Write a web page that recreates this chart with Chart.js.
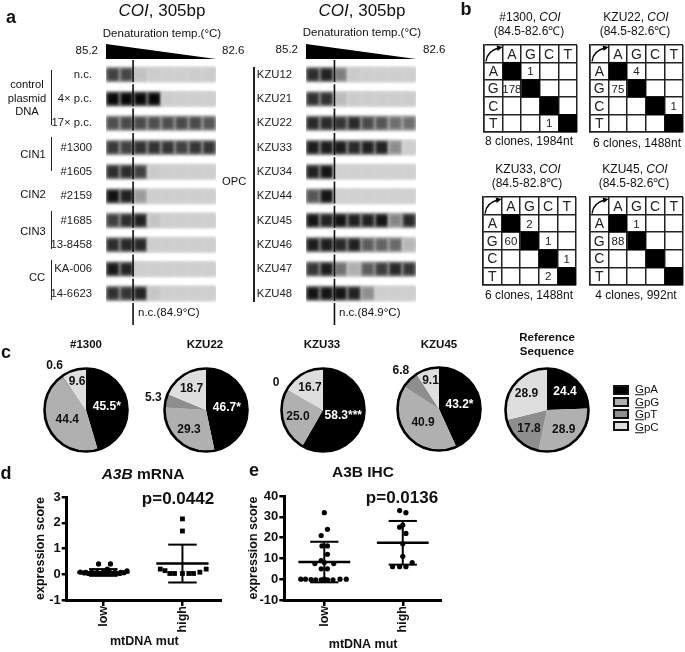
<!DOCTYPE html>
<html lang="en">
<head>
<meta charset="UTF-8">
<title>COI hypermutation figure</title>
<script src="https://cdn.jsdelivr.net/npm/chart.js"></script>
<style>
    body { margin: 0; background: #fff; }
    #page { position: relative; width: 685px; height: 652px; overflow: hidden; font-family: "Liberation Sans", Arial, sans-serif; color: #111; filter: blur(.3px); }
    #page canvas { position: absolute; }
    .t { position: absolute; white-space: nowrap; line-height: 1; }
    .bar { position: absolute; background: #222; }
    .key { position: absolute; width: 12px; height: 6px; border: 2px solid #111; }
</style>
</head>
<body>
<div id="page"></div>

<script>
// panel a: band darkness per lane (0 = empty, 1 = black)
const leftRows = ['n.c.', '4× p.c.', '17× p.c.', '#1300', '#1605', '#2159', '#1685', '13-8458', 'KA-006', '14-6623'];
const leftBands = [
    [.72, .70, .10, .04, .03, .03, .04, .04],
    [1, 1, 1, 1, .04, .03, .03, .03],
    [.66, .68, .68, .66, .66, .68, .68, .62],
    [.76, .72, .80, .80, .78, .72, .78, .78],
    [.82, .82, .72, .05, .03, .03, .03, .03],
    [.95, .88, .28, .03, .03, .03, .03, .03],
    [.72, .82, .88, .08, .03, .03, .03, .03],
    [.82, .84, .84, .03, .03, .03, .03, .03],
    [.92, .86, .03, .03, .03, .03, .03, .03],
    [.80, .78, .86, .07, .03, .03, .03, .03]
];
const rightRows = ['KZU12', 'KZU21', 'KZU22', 'KZU33', 'KZU34', 'KZU44', 'KZU45', 'KZU46', 'KZU47', 'KZU48'];
const rightBands = [
    [.82, .88, .42, .05, .03, .03, .03, .03],
    [.80, .80, .12, .05, .04, .04, .04, .04],
    [.84, .84, .78, .84, .68, .62, .50, .50],
    [.90, .90, .90, .84, .88, .88, .35, .03],
    [.88, .94, .02, .02, .02, .02, .02, .02],
    [.62, .94, .02, .02, .02, .02, .02, .02],
    [.94, .88, .94, .88, .88, .94, .38, .84],
    [.90, .90, .84, .88, .58, .55, .52, .14],
    [.78, .90, .48, .18, .58, .74, .84, .78],
    [.94, .94, .94, .88, .34, .03, .03, .03]
];
const wedgeTemps = ['85.2', '82.6'];
const wedgeHeights = [1, 0];
const ncLaneLeft = 1.97, ncLaneRight = 2.07;

// panel b: [from row, to column, count]
const bases = ['A', 'G', 'C', 'T'];
const cells1300 = [['A', 'G', 1], ['G', 'A', 178], ['T', 'C', 1]];
const cellsKzu22 = [['A', 'G', 4], ['G', 'A', 75], ['C', 'T', 1]];
const cellsKzu33 = [['A', 'G', 2], ['G', 'A', 60], ['G', 'C', 1], ['C', 'T', 1], ['T', 'C', 2]];
const cellsKzu45 = [['A', 'G', 1], ['G', 'A', 88]];

// panel c: GpA, GpG, GpT, GpC
const pieKeys = ['GpA', 'GpG', 'GpT', 'GpC'];
const pieColors = ['#000000', '#b0b0b0', '#8e8e8e', '#dedede'];
const pie1300 = [45.5, 44.4, 0.6, 9.6];
const pieKzu22 = [46.7, 29.3, 5.3, 18.7];
const pieKzu33 = [58.3, 25.0, 0, 16.7];
const pieKzu45 = [43.2, 40.9, 6.8, 9.1];
const pieRef = [24.4, 28.9, 17.8, 28.9];
const text1300 = ['45.5*', '44.4', '0.6', '9.6'];
const textKzu22 = ['46.7*', '29.3', '5.3', '18.7'];
const textKzu33 = ['58.3***', '25.0', '0', '16.7'];
const textKzu45 = ['43.2*', '40.9', '6.8', '9.1'];
const textRef = ['24.4', '28.9', '17.8', '28.9'];

// panels d and e
const groups = ['low', 'high'];
const mrnaLowX = [.71, .76, .81, .86, .91, .96, 1.01, 1.06, 1.11, 1.16, 1.21, 1.26, 1.30, .94, 1.09, 1.05, .78, .85, .92, 1.0, 1.08, 1.15, 1.22, .88, .98, 1.04, 1.13];
const mrnaLowY = [.08, .05, .03, .02, .02, .02, .02, .02, .02, .02, .03, .06, .13, .40, .40, .20, .07, .07, .07, .07, .07, .07, .07, .04, .04, .04, .04];
const mrnaHighX = [2, 2, 1.72, 1.78, 1.84, 1.90, 2, 2.08, 2.14, 2.22, 2.30];
const mrnaHighY = [2.15, 1.68, .20, .14, .03, .03, .03, .03, .03, .08, .20];
const mrnaMean = [.07, .42], mrnaUpper = [.20, 1.15], mrnaLower = [-.06, -.32];
const ihcLowX = [1, 1.04, .96, .97, 1.04, 1.04, .96, 1, .88, 1.12, .96, 1.04, .70, .76, .83, .89, .96, 1.04, 1.11, 1.20, 1.28, 1];
const ihcLowY = [32, 24, 21, 16, 16, 12, 9, 8, 7.5, 7.5, 5, 5, 0, 0, -.2, -.3, -.3, -.3, -.3, 0, 0, 0];
const ihcHighX = [1.96, 2.04, 1.96, 2.0, 2.04, 2, 2, 1.87, 1.96, 2.04, 2.12];
const ihcHighY = [33, 32, 25, 26, 22, 17, 11, 6, 6, 6, 8];
const ihcMean = [8.3, 17.5], ihcUpper = [18, 28], ihcLower = [-1.5, 7];

const page = document.getElementById('page');
Chart.defaults.font.family = '"Liberation Sans", Arial, sans-serif';
Chart.defaults.animation = false;

function text(html, x, y, size, opts) {
    opts = opts || {};
    const el = document.createElement('div');
    el.className = 't';
    el.innerHTML = html;
    el.style.fontSize = size + 'px';
    if (opts.bold) el.style.fontWeight = 'bold';
    el.style.left = x + 'px';
    el.style.top = y + 'px';
    const shift = opts.align === 'left' ? '0' : opts.align === 'right' ? '-100%' : '-50%';
    el.style.transform = 'translate(' + shift + ',-50%)';
    page.appendChild(el);
}

function bar(x, y, w, h) {
    const el = document.createElement('div');
    el.className = 'bar';
    el.style.cssText = 'left:' + x + 'px;top:' + y + 'px;width:' + w + 'px;height:' + h + 'px';
    page.appendChild(el);
}

function canvas(x, y, w, h) {
    const c = document.createElement('canvas');
    c.width = w;
    c.height = h;
    c.style.left = x + 'px';
    c.style.top = y + 'px';
    page.appendChild(c);
    return c;
}

// the scale asks for room around its labels, the plot areas here are placed by hand
function noScalePadding(s) {
    s.paddingTop = s.paddingBottom = s.paddingLeft = s.paddingRight = 0;
}

// soften the gel strip and bands, the n.c. line (dataset 0) stays sharp
const gelBlur = {
    id: 'gelBlur',
    beforeDatasetDraw(chart, args) {
        if (args.index > 0) { chart.ctx.save(); chart.ctx.filter = 'blur(1.5px)'; }
    },
    afterDatasetDraw(chart, args) {
        if (args.index > 0) chart.ctx.restore();
    }
};

function gel(x, rows, bands, ncLane) {
    const labelWidth = 56;
    const strips = rows.flatMap((r, i) => [{x: 0, y: i}, {x: 8, y: i}, {x: NaN, y: i}]);
    const points = [], cores = [], halos = [];
    bands.forEach((lanes, row) => lanes.forEach((v, lane) => {
        points.push({x: lane + .5, y: row});
        const g = Math.round(212 - 205 * v);
        const h = Math.round(214 - 125 * v);
        cores.push('rgb(' + g + ',' + g + ',' + g + ')');
        halos.push('rgb(' + h + ',' + h + ',' + h + ')');
    }));
    new Chart(canvas(x - labelWidth, 59.6, 110.7 + labelWidth, 265), {
        type: 'scatter',
        data: {datasets: [
            {data: [{x: ncLane, y: -.6}, {x: ncLane, y: 10.3}], showLine: true, borderColor: '#111', borderWidth: 1.6, borderDash: [22, 2.3], pointRadius: 0},
            {data: points, backgroundColor: cores, borderWidth: 0, pointStyle: 'rect', pointRadius: 7.5},
            {data: points, backgroundColor: halos, borderWidth: 0, pointStyle: 'rect', pointRadius: 10},
            {data: strips, showLine: true, borderColor: '#d6d6d6', borderWidth: 15, borderCapStyle: 'butt', pointRadius: 0, spanGaps: false}
        ]},
        options: {
            responsive: false,
            plugins: {legend: {display: false}, tooltip: {enabled: false}},
            layout: {padding: 0, autoPadding: false},
            scales: {
                x: {display: false, min: 0, max: 8},
                y: {
                    reverse: true, min: -.6, max: 10.3,
                    afterFit(s) { s.width = labelWidth; noScalePadding(s); },
                    afterBuildTicks(s) { s.ticks = rows.map((r, i) => ({value: i})); },
                    border: {display: false},
                    grid: {display: false},
                    ticks: {autoSkip: false, padding: 6, color: '#222', font: {size: 11.3}, callback: v => rows[v]}
                }
            }
        },
        plugins: [gelBlur]
    });
}

function wedge(x) {
    new Chart(canvas(x, 44, 110, 15), {
        type: 'line',
        data: {labels: wedgeTemps, datasets: [{data: wedgeHeights, fill: 'origin', backgroundColor: '#000', borderWidth: 0, pointRadius: 0}]},
        options: {
            responsive: false,
            layout: {autoPadding: false},
            plugins: {legend: {display: false}, tooltip: {enabled: false}},
            scales: {x: {display: false}, y: {display: false, min: 0, max: 1}}
        }
    });
}

// header letters, counts and the little bent arrow of a substitution matrix
const matrixText = {
    id: 'matrixText',
    afterDatasetsDraw(chart, args, opts) {
        const {ctx, scales: {x, y}} = chart;
        const px = v => x.getPixelForValue(v), py = v => y.getPixelForValue(v);
        ctx.save();
        ctx.textAlign = 'center';
        ctx.textBaseline = 'middle';
        ctx.fillStyle = '#222';
        ctx.font = '14px "Liberation Sans"';
        bases.forEach((b, i) => {
            ctx.fillText(b, px(i + 1.5), py(.5) + 1);
            ctx.fillText(b, px(.5), py(i + 1.5) + 1);
        });
        ctx.font = '11.5px "Liberation Sans"';
        opts.cells.forEach(c => {
            ctx.fillText(c[2], px(bases.indexOf(c[1]) + 1.5), py(bases.indexOf(c[0]) + 1.5) + 1);
        });
        const x0 = px(0), y0 = py(0), cw = px(1) - x0, ch = py(1) - y0;
        ctx.strokeStyle = '#000';
        ctx.lineWidth = 1.3;
        ctx.beginPath();
        ctx.moveTo(x0 + 2, y0 + ch - 1);
        ctx.quadraticCurveTo(x0 + 3, y0 + 6, x0 + cw - 4, y0 + 3);
        ctx.stroke();
        ctx.fillStyle = '#000';
        ctx.beginPath();
        ctx.moveTo(x0 + cw, y0 + 2);
        ctx.lineTo(x0 + cw - 6, y0 + .5);
        ctx.lineTo(x0 + cw - 5, y0 + 6);
        ctx.fill();
        ctx.restore();
    }
};

function matrix(x, y, w, h, cells) {
    new Chart(canvas(x - 2, y - 2, w + 4, h + 4), {
        type: 'scatter',
        data: {datasets: [{
            data: bases.map((b, i) => ({x: i + 1.5, y: i + 1.5})),
            backgroundColor: '#000', borderWidth: 0, pointStyle: 'rect', pointRadius: 13
        }]},
        options: {
            responsive: false,
            layout: {padding: 2, autoPadding: false},
            plugins: {legend: {display: false}, tooltip: {enabled: false}, matrixText: {cells: cells}},
            scales: {
                x: {min: 0, max: 5, border: {color: '#222', width: 1.5}, grid: {color: '#222', lineWidth: 1.5, drawTicks: false}, ticks: {display: false, stepSize: 1}},
                y: {reverse: true, min: 0, max: 5, border: {color: '#222', width: 1.5}, grid: {color: '#222', lineWidth: 1.5, drawTicks: false}, ticks: {display: false, stepSize: 1}}
            }
        },
        plugins: [matrixText]
    });
}

// slice values and black ring of a pie
const pieText = {
    id: 'pieText',
    afterDatasetsDraw(chart, args, opts) {
        const {ctx} = chart;
        const arcs = chart.getDatasetMeta(0).data;
        const cx = arcs[0].x, cy = arcs[0].y, r = arcs[0].outerRadius;
        ctx.save();
        ctx.beginPath();
        ctx.arc(cx, cy, r, 0, Math.PI * 2);
        ctx.lineWidth = 2.6;
        ctx.strokeStyle = '#000';
        ctx.stroke();
        ctx.font = 'bold 12px "Liberation Sans"';
        ctx.textAlign = 'center';
        ctx.textBaseline = 'middle';
        const values = chart.data.datasets[0].data;
        arcs.forEach((a, i) => {
            const v = values[i];
            const dist = v < 7 ? 54 : v < 12 ? 30 : v < 35 ? 26 : 21;
            const mid = (a.startAngle + a.endAngle) / 2;
            ctx.fillStyle = i === 0 ? '#fff' : '#111';
            ctx.fillText(opts.labels[i], cx + Math.cos(mid) * dist, cy + Math.sin(mid) * dist);
        });
        ctx.restore();
    }
};

function pie(cx, cy, values, labels) {
    new Chart(canvas(cx - 65, cy - 65, 130, 130), {
        type: 'pie',
        data: {labels: pieKeys, datasets: [{data: values, backgroundColor: pieColors, borderWidth: 0}]},
        options: {
            responsive: false,
            radius: 41.5,
            plugins: {legend: {display: false}, tooltip: {enabled: false}, pieText: {labels: labels}}
        },
        plugins: [pieText]
    });
}

function summary(means, uppers, lowers) {
    const line = (pts, w) => ({data: pts, showLine: true, borderColor: '#000', borderWidth: w, pointRadius: 0, clip: false});
    return means.flatMap((m, i) => {
        const c = i + 1;
        return [
            line([{x: c - .33, y: m}, {x: c + .33, y: m}], 2.6),
            line([{x: c, y: lowers[i]}, {x: c, y: uppers[i]}], 2),
            line([{x: c - .18, y: uppers[i]}, {x: c + .18, y: uppers[i]}], 2),
            line([{x: c - .18, y: lowers[i]}, {x: c + .18, y: lowers[i]}], 2)
        ];
    });
}

function dotPlot(o) {
    const pts = (xs, ys) => xs.map((x, i) => ({x: x, y: ys[i]}));
    const top = o.top - 8;
    new Chart(canvas(o.left, top, o.width, 652 - top), {
        type: 'scatter',
        data: {datasets: [
            {data: pts(o.lowX, o.lowY), backgroundColor: '#000', borderWidth: 0, pointRadius: 2.6, clip: false},
            {data: pts(o.highX, o.highY), backgroundColor: '#000', borderWidth: 0, pointRadius: o.highRadius, pointStyle: o.highStyle, clip: false}
        ].concat(summary(o.mean, o.upper, o.lower))},
        options: {
            responsive: false,
            layout: {padding: {top: 8, bottom: o.bottomPad}, autoPadding: false},
            plugins: {legend: {display: false}, tooltip: {enabled: false}},
            scales: {
                x: {
                    min: o.xMin, max: o.xMax,
                    afterFit(s) { s.height = 652 - o.bottom - o.bottomPad; noScalePadding(s); },
                    afterBuildTicks(s) { s.ticks = groups.map((g, i) => ({value: i + 1})); },
                    border: {color: '#000', width: 3},
                    grid: {drawOnChartArea: false, color: '#000', lineWidth: 2.5, tickLength: 6},
                    ticks: {autoSkip: false, maxRotation: 90, minRotation: 90, padding: 0, color: '#111', font: {size: 12.5, weight: 'bold'}, callback: v => groups[v - 1]},
                    title: {display: true, text: 'mtDNA mut', color: '#111', font: {size: 12.5, weight: 'bold'}, padding: 0}
                },
                y: {
                    min: o.yMin, max: o.yMax,
                    afterFit(s) { s.width = o.axisX - o.left; noScalePadding(s); },
                    afterBuildTicks(s) { s.ticks = o.yTicks.map(v => ({value: v})); },
                    border: {color: '#000', width: 3},
                    grid: {drawOnChartArea: false, color: '#000', lineWidth: 2.5, tickLength: 5},
                    ticks: {padding: 1, color: '#111', font: {size: 13, weight: 'bold'}},
                    title: {display: true, text: 'expression score', color: '#111', font: {size: 12.5, weight: 'bold'}, padding: 0}
                }
            }
        }
    });
}

// ---- panel a ----
text('a', 11, 17, 18, {bold: true});
text('<i>COI</i>, 305bp', 162, 10, 17);
text('<i>COI</i>, 305bp', 362, 10, 17);
text('Denaturation temp.(°C)', 162, 34, 11.5);
text('Denaturation temp.(°C)', 362, 33, 11.5);
text('85.2', 98, 51, 11.5, {align: 'right'});
text('82.6', 222, 51, 11.5, {align: 'left'});
text('85.2', 298, 50, 11.5, {align: 'right'});
text('82.6', 423, 50, 11.5, {align: 'left'});
wedge(106);
wedge(306);
gel(106, leftRows, leftBands, ncLaneLeft);
gel(306, rightRows, rightBands, ncLaneRight);
text('n.c.(84.9°C)', 138, 313, 11.5, {align: 'left'});
text('n.c.(84.9°C)', 339, 313, 11.5, {align: 'left'});
text('control', 27, 85, 11.2);
text('plasmid', 27, 98.5, 11.2);
text('DNA', 27, 112, 11.2);
text('CIN1', 33, 155, 11.2);
text('CIN2', 33, 195, 11.2);
text('CIN3', 33, 232, 11.2);
text('CC', 37, 278, 11.2);
text('OPC', 222, 182, 11.2, {align: 'left'});
bar(50.5, 70, 1.5, 55);
bar(50.5, 137, 1.5, 34);
bar(50.5, 211, 1.5, 38);
bar(50.5, 260, 1.5, 40);
bar(253, 67, 1.5, 235);

// ---- panel b ----
text('b', 466, 9, 18, {bold: true});
text('#1300, <i>COI</i>', 530, 17, 12);
text('(84.5-82.6℃)', 529, 31, 12);
text('KZU22, <i>COI</i>', 636, 17, 12);
text('(84.5-82.6℃)', 635, 31, 12);
text('KZU33, <i>COI</i>', 528, 169, 12);
text('(84.5-82.8℃)', 527, 183, 12);
text('KZU45, <i>COI</i>', 635, 169, 12);
text('(84.5-82.6℃)', 634, 183, 12);
matrix(483.5, 45, 93, 87.5, cells1300);
matrix(589.5, 44.5, 93, 87.5, cellsKzu22);
matrix(482.5, 197, 93.5, 88, cellsKzu33);
matrix(589.5, 196.5, 93, 88, cellsKzu45);
text('8 clones, 1984nt', 529, 141, 12);
text('6 clones, 1488nt', 637, 143, 12);
text('6 clones, 1488nt', 529, 295, 12);
text('4 clones, 992nt', 636, 295, 12);

// ---- panel c ----
text('c', 6, 352, 18, {bold: true});
text('#1300', 86, 345, 11.5, {bold: true});
text('KZU22', 205, 345, 11.5, {bold: true});
text('KZU33', 322, 345, 11.5, {bold: true});
text('KZU45', 439, 345, 11.5, {bold: true});
text('Reference', 547, 338, 11.5, {bold: true});
text('Sequence', 547, 352, 11.5, {bold: true});
pie(86, 410, pie1300, text1300);
pie(205.7, 410, pieKzu22, textKzu22);
pie(322.7, 410, pieKzu33, textKzu33);
pie(439, 409, pieKzu45, textKzu45);
pie(547.3, 409.7, pieRef, textRef);
pieKeys.forEach((k, i) => {
    const el = document.createElement('div');
    el.className = 'key';
    el.style.left = '613px';
    el.style.top = (385 + i * 12.1) + 'px';
    el.style.background = pieColors[i];
    page.appendChild(el);
    text('<u>G</u>' + k.slice(1), 635, 390 + i * 12.6, 11.5, {align: 'left'});
});

// ---- panel d ----
text('d', 6, 473, 18, {bold: true});
text('<i>A3B</i> mRNA', 143, 474, 15.5, {bold: true});
text('p=0.0442', 178, 498, 17, {bold: true});
dotPlot({
    left: 33, width: 189, top: 497.3, bottom: 601, axisX: 66.7, bottomPad: 2,
    xMin: .537, xMax: 2.5, yMin: -1, yMax: 3, yTicks: [-1, 0, 1, 2, 3],
    lowX: mrnaLowX, lowY: mrnaLowY, highX: mrnaHighX, highY: mrnaHighY,
    highStyle: 'rect', highRadius: 3.4,
    mean: mrnaMean, upper: mrnaUpper, lower: mrnaLower
});

// ---- panel e ----
text('e', 254, 470, 18, {bold: true});
text('A3B IHC', 363, 472, 15.5, {bold: true});
text('p=0.0136', 402, 497, 17, {bold: true});
dotPlot({
    left: 246, width: 196, top: 495.7, bottom: 600, axisX: 284.3, bottomPad: 0,
    xMin: .49, xMax: 2.5, yMin: -10, yMax: 40, yTicks: [-10, 0, 10, 20, 30, 40],
    lowX: ihcLowX, lowY: ihcLowY, highX: ihcHighX, highY: ihcHighY,
    highStyle: 'circle', highRadius: 2.6,
    mean: ihcMean, upper: ihcUpper, lower: ihcLower
});
</script>
</body>
</html>
